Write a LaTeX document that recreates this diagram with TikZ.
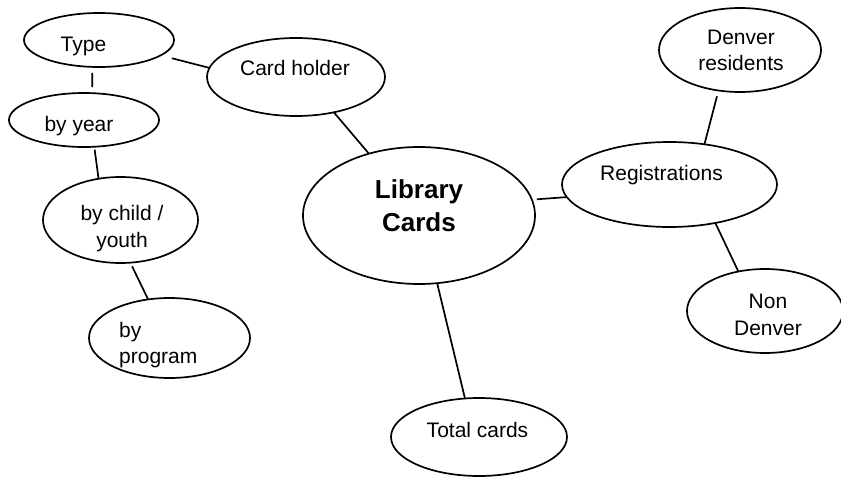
\documentclass[tikz,border=0pt]{standalone}
\usepackage{fontspec}
\setmainfont{Liberation Sans}
\usetikzlibrary{shapes.geometric}
\begin{document}
\begin{tikzpicture}[x=1pt,y=-1pt,
  bub/.style={draw, ellipse, line width=1.7pt, inner sep=0pt, outer sep=0pt},
  lbl/.style={anchor=base, inner sep=0pt, font=\fontsize{21}{27}\selectfont},
  blbl/.style={anchor=base, inner sep=0pt, font=\fontsize{26}{33}\selectfont\bfseries},
  conn/.style={line width=1.7pt}]
\fill[white] (0,0) rectangle (841,479);
\useasboundingbox (0,0) rectangle (841,479);
% ellipses
\node[bub, minimum width=150pt, minimum height=54pt] (type) at (99,40) {};
\node[bub, minimum width=178pt, minimum height=78pt] (card) at (296,77) {};
\node[bub, minimum width=150pt, minimum height=54pt] (year) at (84,120) {};
\node[bub, minimum width=155pt, minimum height=86pt] (child) at (120.5,220) {};
\node[bub, minimum width=161pt, minimum height=80pt] (prog) at (169.5,338) {};
\node[bub, minimum width=232pt, minimum height=137pt] (lib) at (419,215.5) {};
\node[bub, minimum width=215pt, minimum height=85pt] (reg) at (669.5,184.5) {};
\node[bub, minimum width=162pt, minimum height=84pt] (den) at (740,50) {};
\node[bub, minimum width=156pt, minimum height=84pt] (non) at (765,311) {};
\node[bub, minimum width=176pt, minimum height=78pt] (tot) at (479,437) {};
% labels
\node[lbl] (typeT) at (83.5,51) {Type};
\node[lbl] (cardT) at (295,75) {Card holder};
\node[lbl] (yearT) at (79,131) {by year};
\node[lbl] (childT1) at (122,220) {by child /};
\node[lbl] (childT2) at (122,247) {youth};
\node[lbl, anchor=base west] (progT1) at (119,337) {by};
\node[lbl, anchor=base west] (progT2) at (119,363) {program};
\node[blbl] (libT1) at (419,198.5) {Library};
\node[blbl] (libT2) at (419,231.5) {Cards};
\node[lbl] (regT) at (661.5,180) {Registrations};
\node[lbl] (denT1) at (741,44) {Denver};
\node[lbl] (denT2) at (741,70.5) {residents};
\node[lbl] (nonT1) at (768,308.5) {Non};
\node[lbl] (nonT2) at (768,335) {Denver};
\node[lbl] (totT) at (477.5,437) {Total cards};
% connectors
\draw[conn, shorten <=11.5pt] (type.-14.3) -- (card.174);
\draw[conn, shorten <=6pt, shorten >=6pt] (type.-104.5) -- (year.73.5);
\draw[conn, shorten <=3pt] (year.-69.7) -- (child.118.8);
\draw[conn, shorten <=4pt] (child.-77.5) -- (prog.119.1);
\draw[conn] (card.-43.8) -- (lib.129.7);
\draw[conn, shorten <=5pt] (lib.8.9) -- (reg.187.5);
\draw[conn, shorten >=6pt] (reg.49.6) -- (den.242.6);
\draw[conn] (reg.-40.2) -- (non.124.4);
\draw[conn] (lib.-75.1) -- (tot.110);
\end{tikzpicture}
\end{document}
